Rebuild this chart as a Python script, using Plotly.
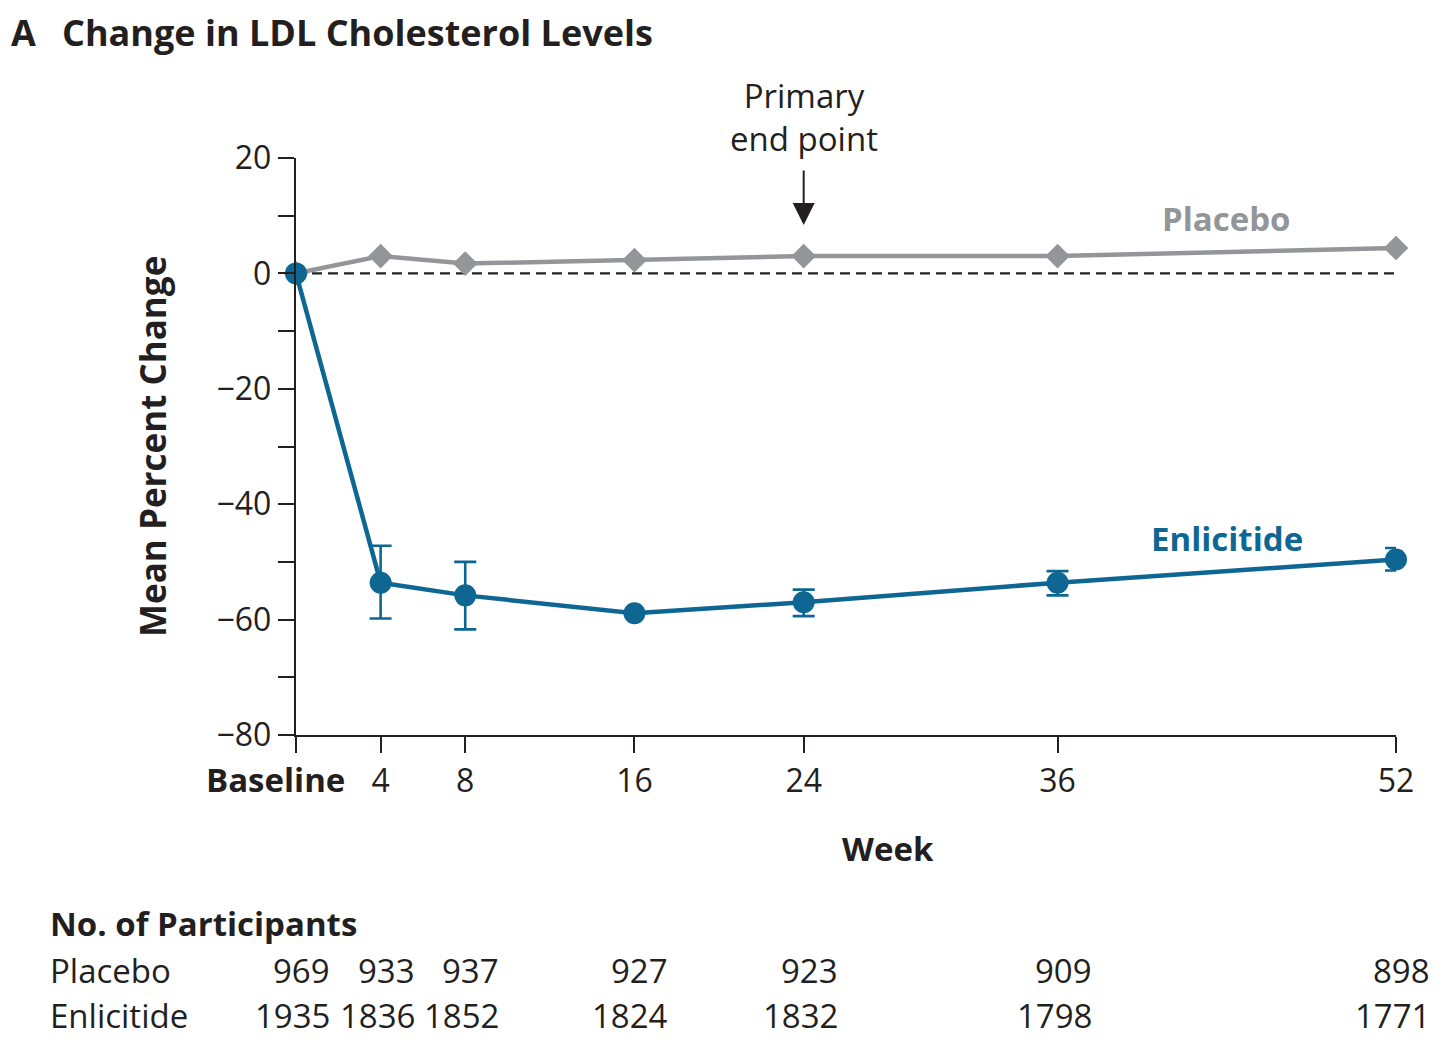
import plotly.graph_objects as go

# === DADOS ===
weeks = [0, 4, 8, 16, 24, 36, 52]
week_labels = ["", "4", "8", "16", "24", "36", "52"]

placebo = [0, 3.0, 1.7, 2.3, 3.0, 3.0, 4.4]
enlicitide = [0, -53.6, -55.8, -58.9, -57.0, -53.6, -49.6]
enl_upper = [0, -47.2, -50.0, -58.9, -54.8, -51.6, -47.6]
enl_lower = [0, -59.8, -61.7, -58.9, -59.4, -55.8, -51.5]

n_placebo = [969, 933, 937, 927, 923, 909, 898]
n_enlicitide = [1935, 1836, 1852, 1824, 1832, 1798, 1771]

y_ticks = list(range(-80, 21, 10))
y_labels = [("\u2212" + str(-v) if v < 0 else str(v)) if v % 20 == 0 else "" for v in y_ticks]

GRAY = "#939598"
BLUE = "#0e6692"
INK = "#231f20"
FONT = "Open Sans"

# a pagina tem 8px de margem no body
OFF = 8
W, H = 1440, 1048
L, T = 296 - OFF, 158 - OFF
PW, PH = 1100, 577
R = W - L - PW
B = H - T - PH


def px(x):
    return (x - OFF - L) / PW


def py(y):
    return (H - B - (y - OFF)) / PH


err_plus = [u - m for u, m in zip(enl_upper, enlicitide)]
err_minus = [m - lo for m, lo in zip(enlicitide, enl_lower)]

fig = go.Figure()

fig.add_shape(type="line", x0=0, x1=52, y0=0, y1=0, xref="x", yref="y",
              line=dict(color=INK, width=2.2, dash="10px,6px"), layer="below")

fig.add_trace(go.Scatter(
    x=weeks, y=placebo, mode="lines+markers", name="Placebo",
    line=dict(color=GRAY, width=4.5),
    marker=dict(symbol="diamond", size=19, color=GRAY),
    cliponaxis=False,
))

fig.add_trace(go.Scatter(
    x=weeks, y=enlicitide, mode="lines+markers", name="Enlicitide",
    line=dict(color=BLUE, width=4.5),
    marker=dict(symbol="circle", size=22, color=BLUE),
    error_y=dict(type="data", array=err_plus, arrayminus=err_minus,
                 color=BLUE, thickness=2.6, width=11, visible=True),
    cliponaxis=False,
))

anns = []
# titulo
anns.append(dict(text="<b>A</b>", x=px(9), y=py(32), xref="paper", yref="paper",
                 xanchor="left", yanchor="middle", showarrow=False,
                 font=dict(size=36, color=INK)))
anns.append(dict(text="<b>Change in LDL Cholesterol Levels</b>", x=px(60), y=py(32),
                 xref="paper", yref="paper", xanchor="left", yanchor="middle",
                 showarrow=False, font=dict(size=36, color=INK)))
# ponto final primario
anns.append(dict(text="Primary<br>end point", x=24, y=py(117), xref="x", yref="paper",
                 xanchor="center", yanchor="middle", showarrow=False,
                 font=dict(size=33, color=INK)))
anns.append(dict(text="", x=24, y=8.4, xref="x", yref="y", ax=0, ay=-56,
                 showarrow=True, arrowhead=2, arrowsize=2.2, arrowwidth=2,
                 arrowcolor=INK))
# rotulos das series
anns.append(dict(text="<b>Placebo</b>", x=44.0, y=9.5, xref="x", yref="y",
                 showarrow=False, font=dict(size=33, color=GRAY)))
anns.append(dict(text="<b>Enlicitide</b>", x=44.0, y=-46.0, xref="x", yref="y",
                 showarrow=False, font=dict(size=33, color=BLUE)))
# eixos
anns.append(dict(text="<b>Baseline</b>", x=0, y=py(779), xref="x", yref="paper",
                 xanchor="right", yanchor="middle", xshift=51, showarrow=False,
                 font=dict(size=33, color=INK)))
anns.append(dict(text="<b>Week</b>", x=px(888), y=py(848), xref="paper", yref="paper",
                 xanchor="center", yanchor="middle", showarrow=False,
                 font=dict(size=33, color=INK)))
anns.append(dict(text="<b>Mean Percent Change</b>", x=px(152), y=py(447), xref="paper",
                 yref="paper", xanchor="center", yanchor="middle", textangle=-90,
                 showarrow=False, font=dict(size=35, color=INK)))
# tabela de participantes
anns.append(dict(text="<b>No. of Participants</b>", x=px(48), y=py(923), xref="paper",
                 yref="paper", xanchor="left", yanchor="middle", showarrow=False,
                 font=dict(size=33, color=INK)))
for nome, vals, ypos in [("Placebo", n_placebo, 970), ("Enlicitide", n_enlicitide, 1016)]:
    anns.append(dict(text=nome, x=px(48), y=py(ypos), xref="paper", yref="paper",
                     xanchor="left", yanchor="middle", showarrow=False,
                     font=dict(size=33, color=INK)))
    for wk, v in zip(weeks, vals):
        anns.append(dict(text=str(v), x=wk, y=py(ypos), xref="x", yref="paper",
                         xanchor="right", yanchor="middle", xshift=36, showarrow=False,
                         font=dict(size=33, color=INK)))

fig.update_layout(
    width=W, height=H,
    margin=dict(l=L, r=R, t=T, b=B, pad=0),
    plot_bgcolor="white", paper_bgcolor="white",
    showlegend=False,
    font=dict(family=FONT, size=32, color=INK),
    annotations=anns,
)

fig.update_xaxes(
    range=[0, 52], tickvals=weeks, ticktext=week_labels,
    showline=True, linecolor=INK, linewidth=2.4, ticks="outside", ticklen=16,
    tickwidth=2, tickcolor=INK, showgrid=False, zeroline=False,
    tickfont=dict(size=32, color=INK),
)
fig.update_yaxes(
    range=[-80, 20], tickvals=y_ticks, ticktext=y_labels,
    showline=True, linecolor=INK, linewidth=2.4, ticks="outside", ticklen=16,
    tickwidth=2, tickcolor=INK, showgrid=False, zeroline=False,
    tickfont=dict(size=32, color=INK),
)

fig.write_html("out.html")
